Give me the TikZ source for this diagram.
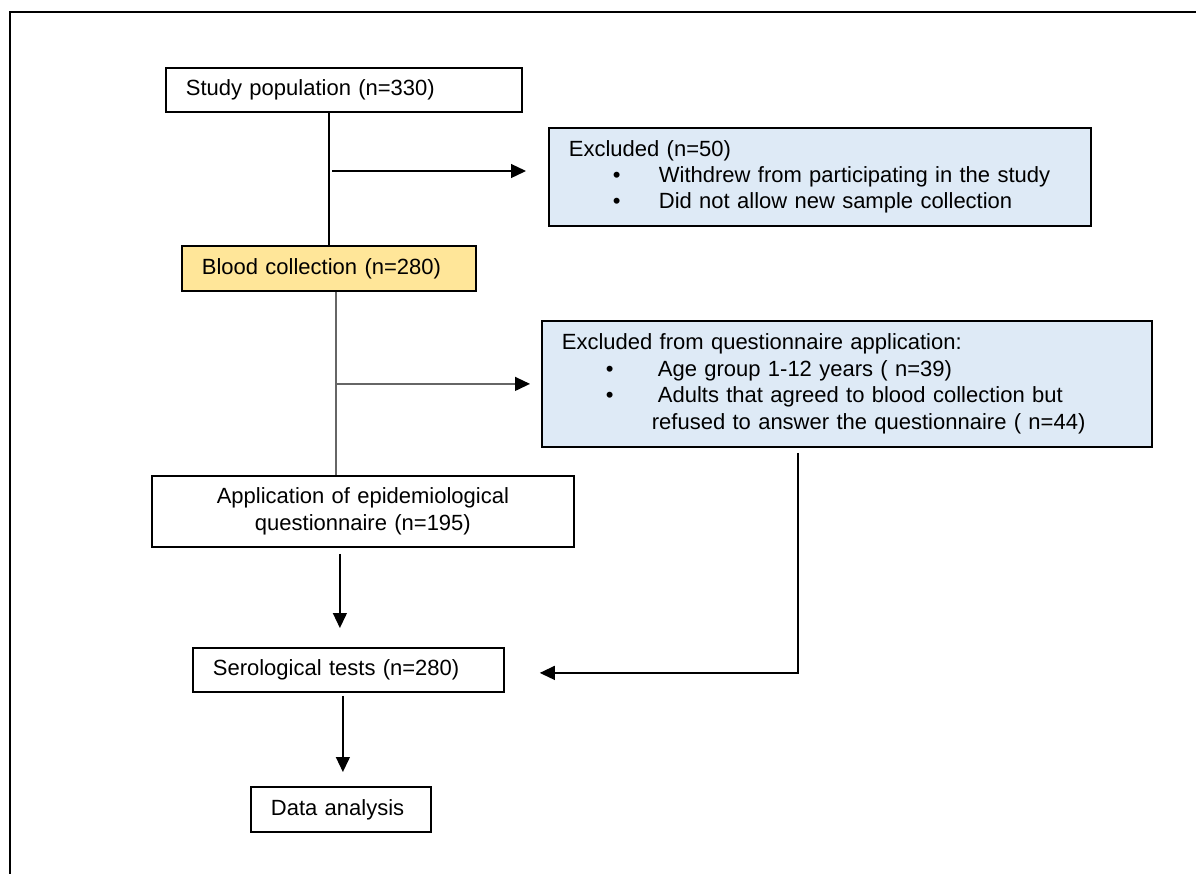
\documentclass[tikz,border=0pt]{standalone}
\usepackage{fontspec}
\setmainfont{Liberation Sans}
\usetikzlibrary{arrows.meta,calc}

\definecolor{bloodfill}{HTML}{FFE699}
\definecolor{exclfill}{HTML}{DEEAF6}

\tikzset{
	box/.style={draw, rectangle, line width=0.9pt, inner xsep=10pt, inner ysep=0pt, anchor=north west, align=left, font=\fontsize{11}{13.2}\selectfont},
	excl/.style={box, fill=exclfill},
	link/.style={line width=0.65pt, color=black},
	greylink/.style={line width=0.65pt, color=black!60},
	tip/.style={-{Triangle[length=7.5pt,width=7pt,color=black]}}
}

\begin{document}
\begin{tikzpicture}[x=0.5pt, y=-0.5pt]
		%%%%% START %%%%%
		
		\useasboundingbox (0,0) rectangle (1196,874);
		\draw[line width=1.1pt] (1196,12) -- (10,12) -- (10,874);
		
		\node[box, text width=158pt, minimum height=22pt] (study) at (165,67) {Study population (n=330)};
		\node[box, fill=bloodfill, text width=127pt, minimum height=22.5pt] (blood) at (181,245) {Blood collection (n=280)};
		\node[box, align=center, text width=191pt, minimum height=35.5pt] (application) at (151,475) {Application of epidemiological\\questionnaire (n=195)};
		\node[box, text width=135.5pt, minimum height=22pt] (serology) at (192,647) {Serological tests (n=280)};
		\node[box, text width=70pt, minimum height=22.5pt] (analysis) at (250,786) {Data analysis};
		
		\node[excl, text width=251pt, minimum height=49pt] (excl1) at (548,127) {Excluded (n=50)\\
			\hspace*{22pt}\makebox[23pt][l]{\textbullet}Withdrew from participating in the study\\
			\hspace*{22pt}\makebox[23pt][l]{\textbullet}Did not allow new sample collection};
		\node[excl, text width=285pt, minimum height=63pt] (excl2) at (541,320) {Excluded from questionnaire application:\\
			\hspace*{22pt}\makebox[26pt][l]{\textbullet}Age group 1-12 years ( n=39)\\
			\hspace*{22pt}\makebox[26pt][l]{\textbullet}Adults that agreed to blood collection but\\
			\hspace*{45pt}refused to answer the questionnaire ( n=44)};
		
		\draw[link] (study.south -| blood.north) -- (blood.north);
		\coordinate (split1) at (332,171);
		\draw[link, tip] (split1) -- ([xshift=-11pt]split1 -| excl1.west);
		
		\coordinate (trunk2) at ($(blood.south)+(7,0)$);
		\draw[greylink] (trunk2) -- (trunk2 |- application.north);
		\draw[greylink, tip] (trunk2 |- excl2.west) -- ([xshift=-5.5pt]excl2.west);
		
		\draw[link, tip] ($(application.south)+(-23,6)$) -- ($(serology.north)+(-8.5,-19)$);
		\draw[link, tip] ($(serology.south)+(-5.5,3)$) -- ($(analysis.north)+(2,-14)$);
		\draw[link, tip] ($(excl2.south)+(-49,5)$) |- ($(serology.east)+(35,3)$);
		
		%%%%% END %%%%%
\end{tikzpicture}
\end{document}
